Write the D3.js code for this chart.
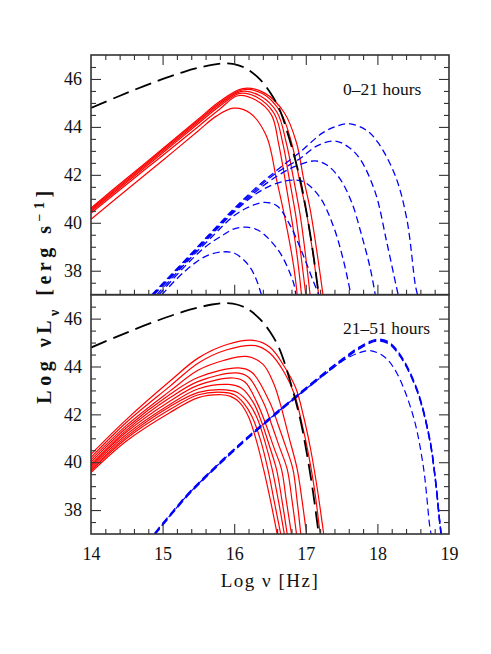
<!DOCTYPE html>
<html>
<head>
<meta charset="utf-8">
<script src="https://d3js.org/d3.v7.min.js"></script>
<style>
  body { margin: 0; background: #fff; }
  svg text { font-family: "Liberation Serif", "DejaVu Serif", serif; fill: #111; }
</style>
</head>
<body>
<div id="chart"></div>
<script>
// curves are [log nu, log nuL_nu] pairs

// accretion disc / blackbody envelope (same in both panels)
var blackCurve = [[14, 44.79], [14.38, 45.27], [14.85, 45.83], [15.31, 46.31], [15.69, 46.59], [15.87, 46.65],
    [16.05, 46.58], [16.2, 46.38], [16.36, 45.98], [16.5, 45.45], [16.63, 44.75], [16.78, 43.4],
    [16.92, 41.82], [17.01, 40.44], [17.1, 38.78], [17.18, 37]];

// 0-21 hours, red (solid)
var redEarly = [
    [[14, 40.15], [14.5, 41.38], [15, 42.6], [15.5, 43.84], [15.75, 44.45], [15.99, 44.78], [16.22, 44.58], [16.45, 43.62], [16.59, 41.82], [16.71, 40.17], [16.83, 38.2], [16.88, 37]],
    [[14, 40.4], [14.5, 41.61], [15, 42.81], [15.5, 44.02], [15.8, 44.75], [16.05, 45.3], [16.3, 45.12], [16.52, 44.5], [16.62, 43.3], [16.71, 41.82], [16.8, 40.2], [16.88, 38.6], [16.94, 37]],
    [[14, 40.47], [14.5, 41.69], [15, 42.91], [15.5, 44.14], [15.8, 44.87], [16.08, 45.4], [16.33, 45.22], [16.56, 44.55], [16.68, 43.3], [16.77, 41.82], [16.86, 40.3], [16.93, 38.7], [17.0, 37]],
    [[14, 40.52], [14.5, 41.75], [15, 42.98], [15.5, 44.21], [15.8, 44.95], [16.1, 45.48], [16.36, 45.3], [16.6, 44.6], [16.73, 43.3], [16.83, 41.82], [16.92, 40.35], [16.99, 38.8], [17.06, 37]],
    [[14, 40.57], [14.5, 41.8], [15, 43.04], [15.5, 44.27], [15.8, 45.01], [16.12, 45.55], [16.4, 45.38], [16.65, 44.6], [16.8, 43.35], [16.91, 41.82], [17.01, 40.4], [17.1, 38.7], [17.18, 37]],
    [[14, 40.62], [14.5, 41.86], [15, 43.09], [15.5, 44.33], [15.8, 45.07], [16.12, 45.6], [16.42, 45.42], [16.7, 44.59], [16.87, 43.34], [16.97, 41.82], [17.06, 40.58], [17.15, 38.9], [17.24, 37]]
];

// 0-21 hours, blue (dashed)
var blueEarly = [
    [[14.99, 37], [15.3, 37.95], [15.6, 38.6], [15.85, 38.79], [16.01, 38.72], [16.2, 38.23], [16.3, 37.7], [16.38, 37]],
    [[14.95, 37], [15.3, 38.15], [15.6, 39.0], [15.85, 39.5], [16.0, 39.75], [16.17, 39.82], [16.33, 39.7], [16.48, 39.34], [16.66, 38.65], [16.83, 37.48], [16.86, 37]],
    [[14.92, 37], [15.3, 38.25], [15.7, 39.45], [16.0, 40.3], [16.2, 40.65], [16.42, 40.85], [16.6, 40.7], [16.78, 39.9], [16.95, 38.75], [17.1, 37.6], [17.18, 37]],
    [[14.88, 37], [15.3, 38.3], [15.7, 39.55], [16.0, 40.45], [16.3, 41.2], [16.55, 41.6], [16.8, 41.78], [16.98, 41.7], [17.2, 41.05], [17.38, 39.9], [17.52, 38.5], [17.63, 37]],
    [[14.87, 37], [15.3, 38.35], [15.7, 39.6], [16.0, 40.5], [16.3, 41.3], [16.6, 41.95], [16.85, 42.35], [17.13, 42.58], [17.3, 42.4], [17.48, 41.82], [17.64, 40.86], [17.78, 39.48], [17.9, 38.1], [17.97, 37]],
    [[14.86, 37], [15.3, 38.38], [15.7, 39.63], [16.0, 40.55], [16.3, 41.38], [16.6, 42.1], [16.92, 42.68], [17.15, 43.2], [17.41, 43.41], [17.6, 43.15], [17.76, 42.65], [17.97, 41.27], [18.13, 39.2], [18.26, 37.4], [18.29, 37]],
    [[14.85, 37], [15.3, 38.4], [15.7, 39.67], [16.0, 40.6], [16.3, 41.45], [16.6, 42.2], [16.92, 42.95], [17.24, 43.76], [17.45, 44.05], [17.62, 44.13], [17.85, 43.85], [18.01, 43.34], [18.25, 41.96], [18.41, 40.17], [18.53, 37.4], [18.56, 37]]
];

// 21-51 hours, red (solid)
var redLate = [
    [[14, 39.57], [14.5, 40.9], [15.1, 42.07], [15.5, 42.7], [15.82, 42.82], [15.95, 42.75], [16.08, 42.48], [16.2, 41.9], [16.31, 40.9], [16.41, 39.71], [16.51, 38.35], [16.6, 37]],
    [[14, 39.64], [14.5, 41.0], [15.1, 42.2], [15.5, 42.82], [15.85, 42.92], [16.0, 42.82], [16.13, 42.48], [16.25, 41.9], [16.37, 40.9], [16.47, 39.71], [16.56, 38.35], [16.65, 37]],
    [[14, 39.7], [14.5, 41.08], [15.1, 42.32], [15.5, 42.92], [15.88, 43.02], [16.05, 42.9], [16.2, 42.48], [16.32, 41.85], [16.43, 40.85], [16.53, 39.71], [16.62, 38.35], [16.7, 37]],
    [[14, 39.78], [14.5, 41.17], [15.1, 42.41], [15.5, 43.07], [15.92, 43.25], [16.1, 43.1], [16.27, 42.48], [16.38, 41.7], [16.49, 40.7], [16.59, 39.71], [16.67, 38.35], [16.74, 37]],
    [[14, 39.85], [14.5, 41.27], [15.1, 42.55], [15.5, 43.22], [15.99, 43.52], [16.15, 43.35], [16.32, 42.48], [16.44, 41.6], [16.55, 40.65], [16.66, 39.71], [16.73, 38.35], [16.8, 37]],
    [[14, 39.9], [14.5, 41.35], [15.1, 42.69], [15.5, 43.38], [16.03, 43.73], [16.2, 43.55], [16.41, 42.48], [16.52, 41.6], [16.63, 40.65], [16.74, 39.71], [16.81, 38.35], [16.87, 37]],
    [[14, 40.0], [14.5, 41.45], [15.1, 42.83], [15.5, 43.55], [16.06, 43.94], [16.25, 43.75], [16.5, 42.48], [16.61, 41.6], [16.72, 40.65], [16.82, 39.71], [16.88, 38.35], [16.93, 37]],
    [[14, 40.1], [14.5, 41.55], [15.1, 42.97], [15.5, 43.85], [15.85, 44.25], [16.17, 44.42], [16.4, 44.1], [16.55, 43.3], [16.64, 42.48], [16.76, 41.1], [16.88, 39.71], [16.95, 38.35], [17.01, 37]],
    [[14, 40.2], [14.5, 41.68], [15.1, 43.17], [15.5, 44.15], [15.9, 44.7], [16.3, 44.87], [16.5, 44.55], [16.7, 43.75], [16.84, 42.85], [16.94, 41.7], [17.04, 40.3], [17.12, 38.9], [17.2, 37]],
    [[14, 40.33], [14.5, 41.8], [15.1, 43.38], [15.5, 44.36], [15.9, 44.92], [16.27, 45.09], [16.5, 44.8], [16.7, 44.0], [16.86, 43.1], [16.97, 41.9], [17.07, 40.5], [17.16, 38.9], [17.25, 37]]
];

// 21-51 hours, blue (dashed): a tight bundle plus one lower curve
var blueLateBundle = [[14.89, 37], [15.34, 38.6], [15.69, 39.65], [16.03, 40.6], [16.45, 41.7], [16.85, 42.7], [17.3, 43.8],
    [17.52, 44.3], [17.75, 44.78], [17.99, 45.1], [18.15, 45.0], [18.32, 44.45], [18.55, 43.04], [18.73, 40.96],
    [18.82, 39.0], [18.87, 37.5], [18.89, 37]];
var blueLateLow = [[14.89, 37], [15.34, 38.6], [15.69, 39.65], [16.03, 40.6], [16.45, 41.7], [16.85, 42.7], [17.3, 43.75],
    [17.55, 44.3], [17.75, 44.58], [17.9, 44.66], [18.1, 44.4], [18.27, 43.73], [18.5, 41.93], [18.64, 39.85],
    [18.73, 37.35], [18.75, 37]];

var xMajor = [14, 15, 16, 17, 18, 19];
var yMajor = [38, 40, 42, 44, 46];
var panelLabels = ["0\u201321 hours", "21\u201351 hours"];

var width = 491, height = 654;
var plot = { left: 91, right: 449, top: 55, mid: 294.7, bottom: 534 };

var svg = d3.select("#chart")
    .append("svg")
    .attr("width", width)
    .attr("height", height);

var x = d3.scaleLinear().domain([14, 19]).range([plot.left, plot.right]);
var yTop = d3.scaleLinear().domain([37, 47]).range([plot.mid, plot.top]);
var yBot = d3.scaleLinear().domain([37, 47]).range([plot.bottom, plot.mid]);

var xMinor = d3.range(14.2, 19, 0.2).filter(function (v) { return Math.abs(v - Math.round(v)) > 0.01; });
var yMinor = d3.range(37.5, 47, 0.5).filter(function (v) { return yMajor.indexOf(v) < 0; });

function drawPanel(y, idx, red, blueStyle) {
    var top = y.range()[1], bottom = y.range()[0];

    svg.append("clipPath").attr("id", "clip" + idx)
        .append("rect")
        .attr("x", plot.left).attr("y", top)
        .attr("width", plot.right - plot.left).attr("height", bottom - top);

    var g = svg.append("g").attr("clip-path", "url(#clip" + idx + ")");

    var line = d3.line()
        .x(function (d) { return x(d[0]); })
        .y(function (d) { return y(d[1]); })
        .curve(d3.curveCatmullRom.alpha(0.5));

    g.selectAll("path.red")
        .data(red)
        .enter().append("path")
        .attr("class", "red")
        .attr("d", line)
        .attr("fill", "none")
        .attr("stroke", "#ff0000")
        .attr("stroke-width", 1.2);

    blueStyle(g, line);

    g.append("path")
        .attr("d", line(blackCurve))
        .attr("fill", "none")
        .attr("stroke", "#000")
        .attr("stroke-width", 1.8)
        .attr("stroke-dasharray", "17,7");

    // axes, ticks point inward on all sides
    function tickAxis(axis, tx, ty, vals, size) {
        var a = svg.append("g")
            .attr("transform", "translate(" + tx + "," + ty + ")")
            .call(axis.tickValues(vals).tickSize(-size).tickFormat(""));
        a.select(".domain").remove();
        a.selectAll("line").attr("stroke", "#333").attr("stroke-width", 1.1);
        return a;
    }
    tickAxis(d3.axisLeft(y), plot.left, 0, yMajor, 10);
    tickAxis(d3.axisLeft(y), plot.left, 0, yMinor, 5);
    tickAxis(d3.axisRight(y), plot.right, 0, yMajor, 10);
    tickAxis(d3.axisRight(y), plot.right, 0, yMinor, 5);
    tickAxis(d3.axisBottom(x), 0, bottom, xMajor.slice(1, -1), 10);
    tickAxis(d3.axisBottom(x), 0, bottom, xMinor, 5);
    if (idx === 0) {
        tickAxis(d3.axisTop(x), 0, top, xMajor.slice(1, -1), 10);
        tickAxis(d3.axisTop(x), 0, top, xMinor, 5);
    }

    // y tick labels
    var yl = svg.append("g")
        .attr("transform", "translate(" + plot.left + ",0)")
        .call(d3.axisLeft(y).tickValues(yMajor).tickSize(0).tickPadding(9));
    yl.select(".domain").remove();
    yl.selectAll("text").style("font-size", "18px").attr("fill", "#111");

    svg.append("text")
        .attr("x", 343)
        .attr("y", idx === 0 ? 95 : 334)
        .style("font-size", "17.5px")
        .text(panelLabels[idx]);
}

drawPanel(yTop, 0, redEarly, function (g, line) {
    g.selectAll("path.blue")
        .data(blueEarly)
        .enter().append("path")
        .attr("class", "blue")
        .attr("d", line)
        .attr("fill", "none")
        .attr("stroke", "#0000ff")
        .attr("stroke-width", 1.3)
        .attr("stroke-dasharray", "7,4");
});

drawPanel(yBot, 1, redLate, function (g, line) {
    g.append("path")
        .attr("d", line(blueLateLow))
        .attr("fill", "none")
        .attr("stroke", "#0000ff")
        .attr("stroke-width", 1.2)
        .attr("stroke-dasharray", "7,4");
    // the bundle is several near-identical curves drawn on top of each other
    [-0.9, 0, 0.9].forEach(function (off) {
        g.append("path")
            .attr("d", line(blueLateBundle))
            .attr("transform", "translate(0," + off + ")")
            .attr("fill", "none")
            .attr("stroke", "#0000ff")
            .attr("stroke-width", 1.4)
            .attr("stroke-dasharray", "8,4");
    });
});

// frame
[[plot.top, plot.mid], [plot.mid, plot.bottom]].forEach(function (r) {
    svg.append("rect")
        .attr("x", plot.left).attr("y", r[0])
        .attr("width", plot.right - plot.left).attr("height", r[1] - r[0])
        .attr("fill", "none")
        .attr("stroke", "#333")
        .attr("stroke-width", 1.6);
});

// x tick labels on the lower panel
var xl = svg.append("g")
    .attr("transform", "translate(0," + plot.bottom + ")")
    .call(d3.axisBottom(x).tickValues(xMajor).tickSize(0).tickPadding(13).tickFormat(d3.format("d")));
xl.select(".domain").remove();
xl.selectAll("text").style("font-size", "18px").attr("fill", "#111");

// axis titles
svg.append("text")
    .attr("x", 270)
    .attr("y", 587)
    .attr("text-anchor", "middle")
    .style("font-size", "19px")
    .style("letter-spacing", "1.5px")
    .text("Log \u03bd  [Hz]");

var yt = svg.append("text")
    .attr("transform", "translate(51,295) rotate(-90)")
    .attr("text-anchor", "middle")
    .style("font-size", "20px")
    .style("font-weight", "bold")
    .style("letter-spacing", "4.5px");
yt.append("tspan").text("Log  \u03bdL");
yt.append("tspan").attr("baseline-shift", "sub").style("font-size", "14px").text("\u03bd");
yt.append("tspan").text("  [erg s");
yt.append("tspan").attr("baseline-shift", "super").style("font-size", "14px").text("\u22121");
yt.append("tspan").text("]");
</script>
</body>
</html>
